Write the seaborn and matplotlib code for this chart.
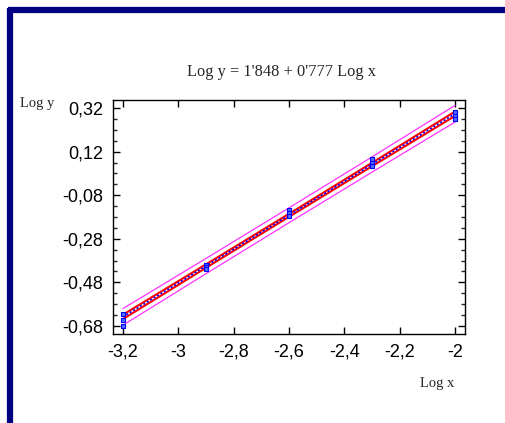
import matplotlib
matplotlib.use("Agg")
import matplotlib.pyplot as plt
from matplotlib.ticker import FixedLocator, FuncFormatter
import numpy as np
import pandas as pd
import seaborn as sns

# Observations: log x levels with replicate log y readings
log_x_levels = [-3.2, -2.9, -2.6, -2.3, -2.0]
log_y_rep1 = [-0.625, -0.400, -0.150, 0.085, 0.300]
log_y_rep2 = [-0.652, -0.410, -0.162, 0.070, 0.285]
log_y_rep3 = [-0.680, -0.420, -0.175, 0.055, 0.268]

# Fitted model: Log y = a + b Log x
intercept = 1.848
slope = 0.777

# Half-widths of the confidence (mean) and prediction limits at each level
conf_halfwidth = [0.010, 0.008, 0.007, 0.008, 0.010]
pred_halfwidth = [0.038, 0.035, 0.034, 0.035, 0.038]

# Axis tick values and labels
x_ticks = [-3.2, -3.0, -2.8, -2.6, -2.4, -2.2, -2.0]
x_tick_labels = ["-3,2", "-3", "-2,8", "-2,6", "-2,4", "-2,2", "-2"]
y_ticks = [0.32, 0.12, -0.08, -0.28, -0.48, -0.68]
y_tick_labels = ["0,32", "0,12", "-0,08", "-0,28", "-0,48", "-0,68"]

title_text = "Log y = 1'848 + 0'777 Log x"

sns.set_theme(style="white")
plt.rcParams["font.family"] = ["Liberation Sans", "DejaVu Sans"]

points = pd.DataFrame({
    "log_x": log_x_levels * 3,
    "log_y": log_y_rep1 + log_y_rep2 + log_y_rep3,
})
fit = pd.DataFrame({"log_x": log_x_levels})
fit["log_y"] = intercept + slope * fit["log_x"]
fit["conf_lo"] = fit["log_y"] - np.array(conf_halfwidth)
fit["conf_hi"] = fit["log_y"] + np.array(conf_halfwidth)
fit["pred_lo"] = fit["log_y"] - np.array(pred_halfwidth)
fit["pred_hi"] = fit["log_y"] + np.array(pred_halfwidth)

fig = plt.figure(figsize=(5.06, 4.23), dpi=100)
ax = fig.add_axes([113 / 506, 1 - 334 / 423, 352 / 506, 234 / 423])

# Frame lines across the top and down the left side
navy = "#000080"
fig.add_artist(plt.Line2D([8 / 506, 1], [1 - 10 / 423] * 2, color=navy, lw=4.5,
                          solid_capstyle="butt", transform=fig.transFigure))
fig.add_artist(plt.Line2D([10 / 506] * 2, [0, 1 - 8 / 423], color=navy, lw=4.5,
                          solid_capstyle="butt", transform=fig.transFigure))

for col in ["pred_lo", "pred_hi"]:
    sns.lineplot(data=fit, x="log_x", y=col, ax=ax, color="#ff33ff", lw=0.9,
                 legend=False, errorbar=None)
for col in ["conf_lo", "conf_hi"]:
    sns.lineplot(data=fit, x="log_x", y=col, ax=ax, color="#ff0000", lw=1.5,
                 legend=False, errorbar=None)
sns.lineplot(data=fit, x="log_x", y="log_y", ax=ax, color="#0000ff", lw=1.2,
             legend=False, errorbar=None, linestyle=(0, (1.2, 1.2)))
sns.scatterplot(data=points, x="log_x", y="log_y", ax=ax, marker="s", s=9,
                color="#5070ff", edgecolor="#0000ff", linewidth=0.8, zorder=5,
                legend=False)

ax.set_xlim(-3.236, -1.964)
ax.set_ylim(-0.717, 0.357)
ax.xaxis.set_major_locator(FixedLocator(x_ticks))
ax.xaxis.set_major_formatter(FuncFormatter(
    lambda v, pos: x_tick_labels[pos] if pos is not None and pos < len(x_tick_labels) else ""))
ax.yaxis.set_major_locator(FixedLocator(y_ticks))
ax.yaxis.set_major_formatter(FuncFormatter(
    lambda v, pos: y_tick_labels[pos] if pos is not None and pos < len(y_tick_labels) else ""))
ax.yaxis.set_minor_locator(FixedLocator(
    [t - k * 0.05 for t in y_ticks for k in (1, 2, 3) if t - k * 0.05 > -0.717]))

ax.tick_params(axis="both", which="major", direction="in", length=5, width=1,
               top=True, right=True, bottom=True, left=True,
               labelsize=13, colors="black", pad=7)
ax.tick_params(axis="both", which="minor", direction="in", length=3, width=1,
               top=False, right=True, bottom=False, left=True)
ax.set_xlabel("")
ax.set_ylabel("")
for sp in ax.spines.values():
    sp.set_color("black")
    sp.set_linewidth(1.0)

serif = ["Liberation Serif", "DejaVu Serif"]
fig.text(282 / 506, 1 - 72 / 423, title_text, ha="center", va="center",
         fontsize=11.8, family=serif)
fig.text(20 / 506, 1 - 103 / 423, "Log y", ha="left", va="center",
         fontsize=10.5, family=serif)
fig.text(420 / 506, 1 - 383 / 423, "Log x", ha="left", va="center",
         fontsize=10.5, family=serif)

fig.savefig("out.png", dpi=100, facecolor="white")
